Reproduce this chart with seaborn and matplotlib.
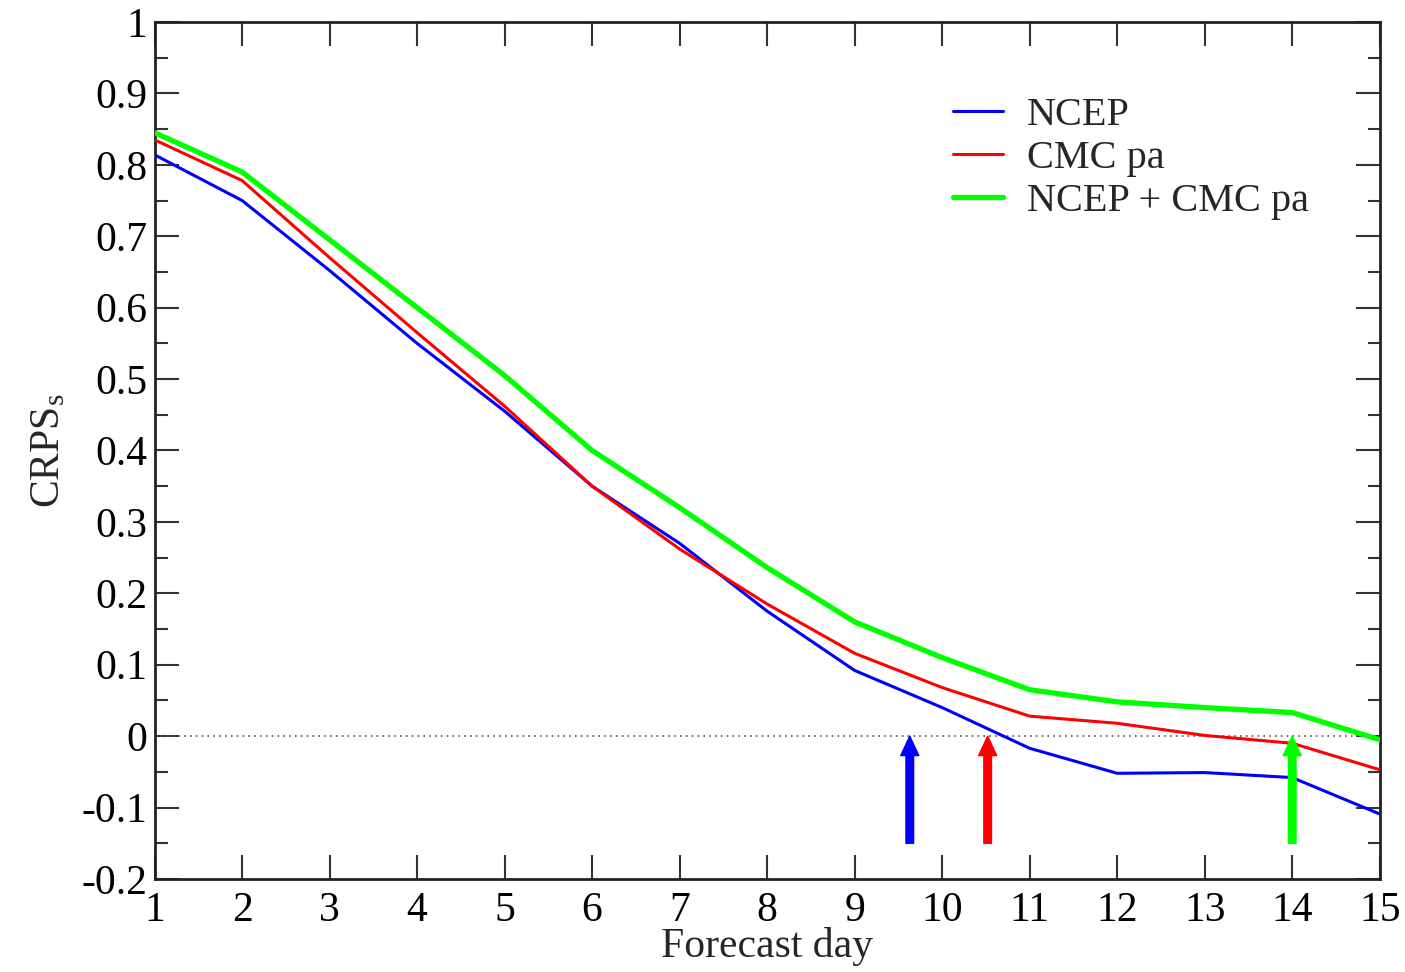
import matplotlib
matplotlib.use("Agg")
import matplotlib.pyplot as plt
import seaborn as sns
import pandas as pd
from matplotlib.ticker import MultipleLocator, FuncFormatter

days = list(range(1, 16))
ncep = [0.814, 0.750, 0.652, 0.550, 0.455, 0.350, 0.270, 0.175, 0.092, 0.040,
        -0.017, -0.052, -0.051, -0.058, -0.109]
cmc_pa = [0.835, 0.778, 0.670, 0.565, 0.462, 0.350, 0.262, 0.185, 0.116, 0.068,
          0.028, 0.018, 0.001, -0.010, -0.047]
combined = [0.845, 0.790, 0.695, 0.600, 0.505, 0.400, 0.320, 0.236, 0.160, 0.110,
            0.065, 0.048, 0.040, 0.033, -0.005]
names = ["NCEP", "CMC pa", "NCEP + CMC pa"]
colors = ["#0000ff", "#ff0000", "#00ff00"]
widths = [2.2, 2.2, 3.8]
# day where each skill curve crosses zero (arrows)
cross_days = [9.63, 10.52, 14.0]

df = pd.DataFrame({
    "day": days * 3,
    "crps": ncep + cmc_pa + combined,
    "model": [n for n in names for _ in days],
})

sns.set_style("ticks")
plt.rcParams["font.family"] = ["Liberation Serif", "DejaVu Serif"]
plt.rcParams["mathtext.fontset"] = "custom"
plt.rcParams["mathtext.rm"] = "Liberation Serif"
plt.rcParams["mathtext.it"] = "Liberation Serif"

fig = plt.figure(figsize=(14.05, 9.72), dpi=100)
ax = fig.add_axes([0.110, 0.0957, 0.872, 0.8817])

ax.axhline(0, color="#555555", lw=1.2, ls=(0, (1, 2.5)), zorder=1)

sns.lineplot(data=df, x="day", y="crps", hue="model", palette=colors,
             hue_order=names, ax=ax, legend=False, zorder=3)
for line, w in zip(ax.get_lines()[1:], widths):
    line.set_linewidth(w)

for d, c in zip(cross_days, colors):
    ax.annotate("", xy=(d, 0), xytext=(d, -0.15),
                arrowprops=dict(facecolor=c, edgecolor=c, width=5.5,
                                headwidth=13, headlength=14, shrink=0),
                zorder=4)

handles = [plt.Line2D([], [], color=c, lw=w) for c, w in zip(colors, widths)]
leg = ax.legend(handles, names, loc="upper right", bbox_to_anchor=(0.972, 0.955),
                frameon=False, fontsize=29, handlelength=1.25, handletextpad=0.6,
                labelspacing=0.15)

ax.set_xlim(1, 15)
ax.set_ylim(-0.2, 1.0)
ax.set_xticks(days)
ax.set_yticks([round(-0.2 + 0.1 * i, 1) for i in range(13)])
ax.yaxis.set_minor_locator(MultipleLocator(0.05))
ax.yaxis.set_major_formatter(FuncFormatter(lambda v, p: f"{v:g}"))
ax.tick_params(which="both", direction="in", top=True, right=True,
               labelsize=30, width=1.5, color="#333333", labelcolor="black")
ax.tick_params(which="major", length=17)
ax.tick_params(axis="x", which="major", pad=9)
ax.tick_params(axis="y", which="major", pad=5)
ax.tick_params(which="minor", length=9)
for s in ax.spines.values():
    s.set_linewidth(2)
    s.set_color("#222222")

ax.set_xlabel("Forecast day", fontsize=30, labelpad=-2)
ax.set_ylabel(r"CRPS$_\mathrm{s}$", fontsize=30, labelpad=10)

fig.savefig("out.png", dpi=100)
